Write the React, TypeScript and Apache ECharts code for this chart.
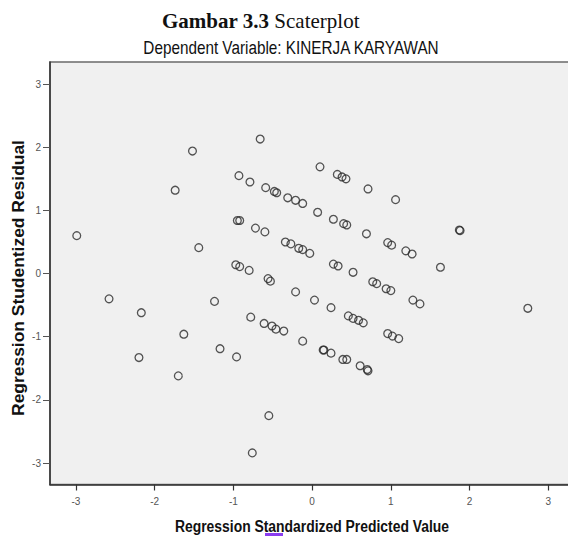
import React, { useEffect, useRef } from "react";
import * as echarts from "echarts";

const titleBold = "Gambar 3.3";
const titleNormal = "Scaterplot";
const subtitle = "Dependent Variable: KINERJA KARYAWAN";
const xTitle = "Regression Standardized Predicted Value";
const yTitle = "Regression Studentized Residual";
const tickValues = [-3, -2, -1, 0, 1, 2, 3];

const xValues = [
  -0.66, -1.52, -1.74, -2.99, -1.44, -0.93, -0.79, -0.59, -0.48, -0.45,
  -0.31, -0.21, -0.12, -0.95, -0.92, -0.72, -0.6, -0.34, -0.27, -0.17,
  -0.12, -0.03, -0.97, -0.92, -0.8, -0.56, -0.53, 0.1, 0.32, 0.38,
  0.43, 0.71, 1.06, 0.07, 0.27, 0.4, 0.44, 0.69, 0.96, 1.01,
  1.19, 1.27, 1.87, 1.88, 1.63, 0.27, 0.33, 0.52, 0.77, 0.82,
  0.94, 1.0, 1.28, 1.37, 2.74, 0.03, 0.24, 0.46, 0.52, 0.59,
  0.65, 0.96, 1.02, 1.1, -0.12, 0.14, 0.15, 0.24, 0.39, 0.44,
  0.61, 0.7, 0.71, -0.21, -2.58, -2.17, -1.24, -0.78, -0.61, -0.51,
  -0.46, -0.36, -1.63, -1.17, -0.96, -2.2, -1.7, -0.55, -0.76,
];
const yValues = [
  2.13, 1.94, 1.32, 0.6, 0.41, 1.55, 1.45, 1.36, 1.3, 1.28,
  1.2, 1.16, 1.11, 0.84, 0.84, 0.72, 0.66, 0.5, 0.47, 0.4,
  0.38, 0.32, 0.14, 0.11, 0.05, -0.08, -0.12, 1.69, 1.57, 1.53,
  1.5, 1.34, 1.17, 0.97, 0.86, 0.79, 0.77, 0.63, 0.49, 0.45,
  0.36, 0.31, 0.69, 0.68, 0.1, 0.15, 0.12, 0.02, -0.13, -0.16,
  -0.24, -0.27, -0.42, -0.48, -0.55, -0.42, -0.54, -0.67, -0.71, -0.74,
  -0.78, -0.95, -0.99, -1.03, -1.07, -1.21, -1.21, -1.26, -1.36, -1.36,
  -1.46, -1.52, -1.54, -0.29, -0.4, -0.62, -0.44, -0.69, -0.79, -0.83,
  -0.88, -0.91, -0.96, -1.19, -1.32, -1.33, -1.62, -2.25, -2.84,
];

export default function App() {
  const ref = useRef<HTMLDivElement>(null);
  useEffect(() => {
    document.body.style.margin = "0";
    if (!ref.current) return;
    const chart = echarts.init(ref.current, null, { renderer: "svg" });
    const data = xValues.map((x, i) => [x, yValues[i]]);
    const sans = '"Liberation Sans", Arial, sans-serif';
    chart.setOption({
      animation: false,
      backgroundColor: "#ffffff",
      title: {
        text: `{b|${titleBold}} {n|${titleNormal}}`,
        left: 157,
        top: 5,
        textStyle: {
          rich: {
            b: { fontFamily: '"Liberation Serif", "Times New Roman", serif', fontWeight: "bold", fontSize: 21, color: "#111" },
            n: { fontFamily: '"Liberation Serif", "Times New Roman", serif', fontWeight: "normal", fontSize: 21, color: "#111" },
          },
        },
      },
      graphic: [
        {
          type: "text",
          x: 291,
          y: 47,
          scaleY: 1.25,
          style: { text: subtitle, fontFamily: sans, fontSize: 15.3, fill: "#111", align: "center", verticalAlign: "middle" },
        },
        {
          type: "text",
          x: 312,
          y: 526,
          scaleY: 1.22,
          style: { text: xTitle, fontFamily: sans, fontWeight: "bold", fontSize: 13.9, fill: "#111", align: "center", verticalAlign: "middle" },
        },
        {
          type: "text",
          x: 19,
          y: 278,
          rotation: Math.PI / 2,
          scaleX: 1.09,
          style: { text: yTitle, fontFamily: sans, fontWeight: "bold", fontSize: 16, fill: "#111", align: "center", verticalAlign: "middle" },
        },
        {
          type: "rect",
          shape: { x: 265, y: 533, width: 18, height: 3 },
          style: { fill: "#8a3cf0" },
        },
      ],
      grid: {
        left: 50,
        top: 62,
        width: 540,
        height: 422.5,
        show: true,
        backgroundColor: "#f0f0f0",
        borderColor: "#6a6a6a",
        borderWidth: 1.5,
        containLabel: false,
        outerBoundsMode: "none",
      },
      xAxis: {
        type: "value",
        min: -3.33,
        max: 3.53,
        splitLine: { show: false },
        axisLine: { show: true, onZero: false, lineStyle: { color: "#333", width: 1.5 } },
        axisTick: { show: true, length: 6, customValues: tickValues, lineStyle: { color: "#333", width: 1.2 } },
        axisLabel: { customValues: tickValues, margin: 12, fontSize: 10, color: "#555", fontFamily: sans },
      },
      yAxis: {
        type: "value",
        min: -3.34,
        max: 3.35,
        splitLine: { show: false },
        axisLine: { show: true, onZero: false, lineStyle: { color: "#333", width: 1.5 } },
        axisTick: { show: true, length: 7, customValues: tickValues, lineStyle: { color: "#555", width: 1 } },
        axisLabel: { customValues: tickValues, margin: 9, fontSize: 10, color: "#555", fontFamily: sans },
      },
      series: [
        {
          type: "scatter",
          data,
          symbol: "circle",
          symbolSize: 7.8,
          itemStyle: { color: "rgba(0,0,0,0)", borderColor: "#2a2a2a", borderWidth: 1.3 },
          emphasis: { disabled: true },
        },
      ],
    });
    return () => chart.dispose();
  }, []);
  return <div ref={ref} style={{ width: 568, height: 536 }} />;
}
